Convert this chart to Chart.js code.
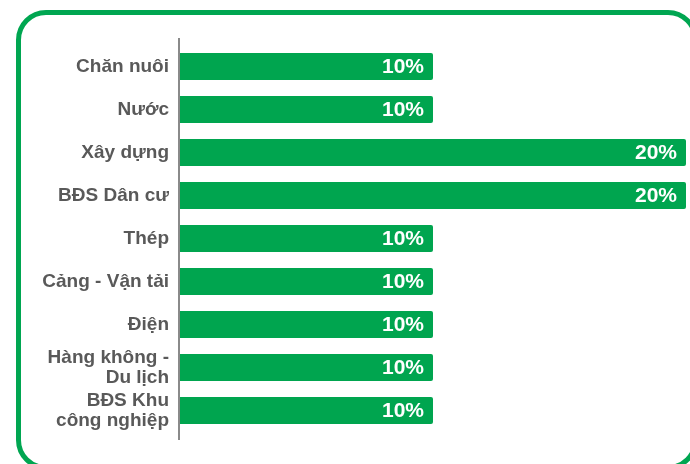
<!DOCTYPE html>
<html>
<head>
<meta charset="utf-8">
<script src="https://cdn.jsdelivr.net/npm/chart.js@4.4.1/dist/chart.umd.min.js"></script>
<style>
  html, body { margin: 0; padding: 0; background: #fff; overflow: hidden; }
  #wrap { position: relative; width: 690px; height: 464px; overflow: hidden; }
  #frame {
    position: absolute; left: 16px; top: 10px; width: 682px; height: 460px;
    box-sizing: border-box; border: 5px solid #00a651; border-radius: 30px;
  }
  #chart { position: absolute; left: 0; top: 0; }
</style>
</head>
<body>
<div id="wrap">
  <div id="frame"></div>
  <canvas id="chart" width="690" height="464"></canvas>
</div>
<script>
  // Ngành và tỷ trọng (%)
  const sectors = [
    "Chăn nuôi",
    "Nước",
    "Xây dựng",
    "BĐS Dân cư",
    "Thép",
    "Cảng - Vận tải",
    "Điện",
    ["Hàng không -", "Du lịch"],
    ["BĐS Khu", "công nghiệp"]
  ];
  const weights = [10, 10, 20, 20, 10, 10, 10, 10, 10];
  const xMax = 20;

  const green = "#00a54f";
  const labelFont = "'Liberation Sans', Arial, sans-serif";

  // Vẽ trục dọc dài hơn vùng biểu đồ một chút
  const axisLine = {
    id: "axisLine",
    afterDraw(chart) {
      const { ctx, chartArea } = chart;
      ctx.save();
      ctx.strokeStyle = "#8a8a8a";
      ctx.lineWidth = 2;
      ctx.beginPath();
      ctx.moveTo(chartArea.left - 1, chartArea.top - 7);
      ctx.lineTo(chartArea.left - 1, chartArea.bottom + 8);
      ctx.stroke();
      ctx.restore();
    }
  };

  // Nhãn giá trị màu trắng ở cuối mỗi thanh
  const valueLabels = {
    id: "valueLabels",
    afterDatasetsDraw(chart) {
      const { ctx } = chart;
      const meta = chart.getDatasetMeta(0);
      ctx.save();
      ctx.fillStyle = "#ffffff";
      ctx.font = "bold 21px " + labelFont;
      ctx.textAlign = "right";
      ctx.textBaseline = "middle";
      meta.data.forEach((bar, i) => {
        ctx.fillText(weights[i] + "%", bar.x - 9, bar.y + 1);
      });
      ctx.restore();
    }
  };

  new Chart(document.getElementById("chart"), {
    type: "bar",
    data: {
      labels: sectors,
      datasets: [{
        data: weights,
        backgroundColor: green,
        borderWidth: 0,
        borderRadius: 2,
        borderSkipped: "start",
        categoryPercentage: 1,
        barPercentage: 0.63
      }]
    },
    options: {
      indexAxis: "y",
      responsive: false,
      animation: false,
      layout: { padding: { left: 0, right: 4, top: 45, bottom: 32 } },
      scales: {
        x: { display: false, min: 0, max: xMax },
        y: {
          grid: { display: false },
          border: { display: false },
          afterFit(scale) { scale.width = 180; },
          ticks: {
            color: "#595959",
            padding: 3,
            font: { family: labelFont, size: 19, weight: "bold", lineHeight: 1.05 }
          }
        }
      },
      plugins: {
        legend: { display: false },
        tooltip: { enabled: false }
      }
    },
    plugins: [axisLine, valueLabels]
  });
</script>
</body>
</html>
